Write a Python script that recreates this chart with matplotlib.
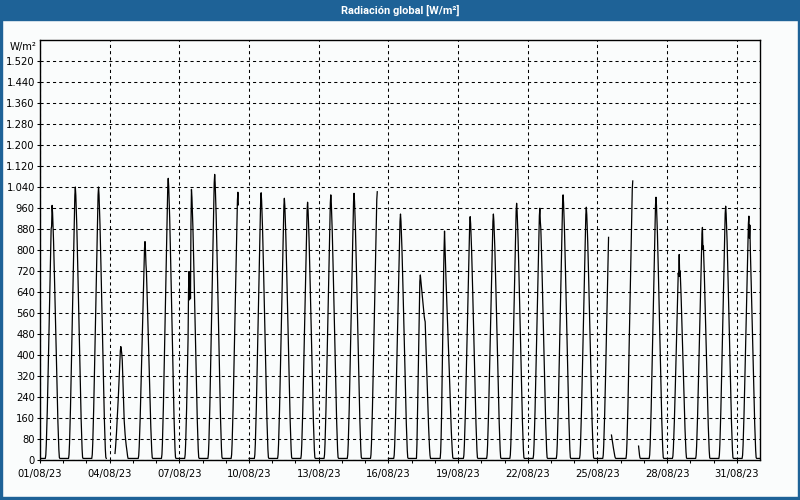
import matplotlib
matplotlib.use('Agg')
import matplotlib.pyplot as plt
import matplotlib.dates as mdates
from matplotlib.patches import Rectangle
from matplotlib.ticker import FuncFormatter
import numpy as np

# daily maximum of global radiation, 1..31 Aug 2023 (W/m2)
daily_peak = [970, 1040, 1040, 432, 832, 1073, 1031, 1088, 1020, 1018,
              997, 982, 1010, 1016, 1022, 937, 705, 872, 927, 937,
              978, 959, 1010, 963, 932, 1063, 1001, 783, 886, 967, 929]

# typical day shape (fraction of the daily max), every 30 min from 05:00 to 21:00
profile_hours = np.arange(5, 21.5, 0.5)
profile = [0, 0, 0.02, 0.06, 0.12, 0.19, 0.27, 0.36, 0.45, 0.55, 0.65,
           0.74, 0.83, 0.91, 0.97, 1.0, 0.97, 0.92, 0.86, 0.79, 0.71,
           0.63, 0.55, 0.46, 0.38, 0.30, 0.22, 0.15, 0.09, 0.04, 0.01, 0, 0]
night = 6

# cloudy days read point by point: day -> (first hour, half-hourly values)
day_curves = {
    4: (5.5, [25, 45, 70, 100, 135, 170, 205, 245, 290, 340, 390, 415, 432,
              420, 405, 380, 320, 250, 190, 150, 120, 95, 75, 58, 45, 30, 15]),
    17: (5.5, [60, 150, 260, 370, 480, 590, 680, 705, 685, 665, 645, 625, 605,
               585, 565, 548, 535, 527, 470, 410, 350, 290, 235, 180, 130, 85,
               45, 18]),
    18: (6.0, [30, 90, 180, 300, 430, 570, 700, 800, 872, 810, 760, 690, 640,
               600, 550, 495, 440, 385, 330, 275, 217, 160, 110, 70, 35, 10]),
}

# single readings that differ from the typical shape: (day, hour, value)
spot_values = [
    (1, 11.5, 880), (1, 12.0, 890),
    (5, 13.0, 800), (5, 13.5, 745),
    (7, 9.5, 650), (7, 10.0, 718), (7, 10.5, 610), (7, 11.0, 700),
    (7, 11.5, 615), (7, 12.0, 900),
    (9, 13.0, 972),
    (22, 13.0, 908),
    (25, 14.5, 95), (25, 15.0, 82), (25, 15.5, 70), (25, 16.0, 58),
    (25, 16.5, 46), (25, 17.0, 35), (25, 17.5, 24), (25, 18.0, 14),
    (25, 18.5, 8), (25, 19.0, 6), (25, 19.5, 6), (25, 20.0, 6),
    (26, 18.5, 53), (26, 19.0, 35), (26, 19.5, 18), (26, 20.0, 8),
    (28, 12.0, 700), (28, 13.0, 700),
    (29, 13.0, 802),
    (31, 13.0, 845), (31, 13.5, 895),
]

# missing data: (day, hour) from .. to
gaps = [(3, 21.0, 4, 5.5), (9, 13.5, 10, 0.0), (15, 13.0, 16, 0.0),
        (25, 12.0, 25, 14.5), (26, 13.0, 26, 18.5)]

ndays = len(daily_peak)
vals = np.full(ndays * 48, float(night))
for d in range(ndays):
    for h, f in zip(profile_hours, profile):
        vals[d * 48 + int(h * 2)] = max(night, daily_peak[d] * f)
for d, (h0, seg) in day_curves.items():
    base = (d - 1) * 48
    vals[base:base + 48] = night
    i0 = base + int(h0 * 2)
    vals[i0:i0 + len(seg)] = seg
for d, h, v in spot_values:
    vals[(d - 1) * 48 + int(h * 2)] = v
for d0, h0, d1, h1 in gaps:
    vals[(d0 - 1) * 48 + int(h0 * 2):(d1 - 1) * 48 + int(h1 * 2)] = np.nan

times = np.datetime64('2023-08-01T00:00') + np.arange(ndays * 48) * np.timedelta64(30, 'm')

blue = '#1e6297'
fig = plt.figure(figsize=(8, 5), dpi=100, facecolor='#fafcfc')
ax = fig.add_axes([0.05, 0.08, 0.9, 0.84])
ax.set_facecolor('#fafcfc')

ax.plot(times, vals, color='black', lw=0.9)

ax.set_xlim(np.datetime64('2023-08-01T00:00'), np.datetime64('2023-08-31T23:59'))
ax.set_ylim(0, 1600)
ax.set_yticks(np.arange(0, 1521, 80))
ax.yaxis.set_major_formatter(FuncFormatter(lambda v, p: f'{int(v):,}'.replace(',', '.')))
ax.xaxis.set_major_locator(mdates.DayLocator(bymonthday=range(1, 32, 3)))
ax.xaxis.set_minor_locator(mdates.DayLocator())
ax.xaxis.set_major_formatter(mdates.DateFormatter('%d/%m/%y'))

ax.grid(True, which='major', color='black', linestyle=(0, (3, 3)), linewidth=0.75)
ax.tick_params(which='both', direction='out', length=2.5, width=0.75, colors='black',
               labelsize=7.2)
ax.tick_params(axis='x', pad=4)
ax.tick_params(axis='y', pad=1.2)
for s in ax.spines.values():
    s.set_linewidth(1.0)

ax.text(-0.005, 1572, 'W/m²', transform=ax.get_yaxis_transform(), ha='right',
        va='center', fontsize=7.2)

# window frame and title bar
fig.patches.append(Rectangle((0, 1 - 20 / 500), 1, 20 / 500, transform=fig.transFigure,
                             color=blue, zorder=0))
fig.patches.append(Rectangle((0, 0), 2 / 800, 1, transform=fig.transFigure, color=blue))
fig.patches.append(Rectangle((1 - 2 / 800, 0), 2 / 800, 1, transform=fig.transFigure, color=blue))
fig.patches.append(Rectangle((0, 0), 1, 3 / 500, transform=fig.transFigure, color=blue))
fig.text(0.5, 1 - 10 / 500, 'Radiación global [W/m²]', color='white', fontweight='bold',
         family='Roboto', ha='center', va='center', fontsize=7.9)

fig.savefig('out.png', dpi=100, facecolor=fig.get_facecolor())
